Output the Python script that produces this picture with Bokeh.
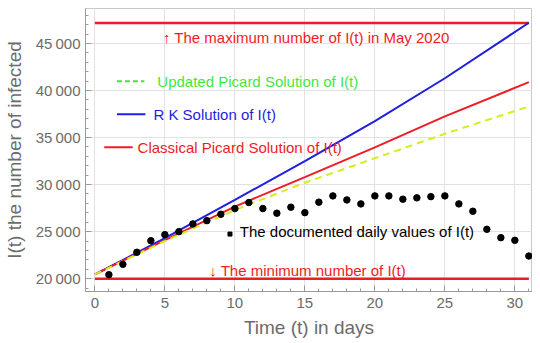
from bokeh.plotting import figure
from bokeh.models import ColumnDataSource, SingleIntervalTicker, Range1d
from bokeh.core.properties import value
from bokeh.embed import file_html
from bokeh.resources import INLINE

# ---- data ----
days = list(range(1, 32))
documented = [20425, 21530, 22810, 24040, 24680, 25000, 25820, 26170, 26850, 27450,
              28090, 27450, 26960, 27600, 27020, 28130, 28800, 28370, 27950, 28800,
              28800, 28450, 28590, 28720, 28800, 27950, 27170, 25250, 24360, 24080, 22410]

t_curve = [0, 5, 10, 15, 20, 25, 31]
rk_solution = [20450, 24300, 28370, 32500, 36750, 41300, 47200]
classical_picard = [20450, 24100, 27660, 30800, 33950, 37250, 40880]
updated_picard = [20450, 24000, 27300, 30200, 32800, 35400, 38300]

t_limits = [0, 31]
max_infected = 47175
min_infected = 20000

y_ticks = [20000, 25000, 30000, 35000, 40000, 45000]
y_tick_labels = ["20\u2009000", "25\u2009000", "30\u2009000", "35\u2009000", "40\u2009000", "45\u2009000"]

# annotation texts (positions in data units)
note_text = ["\u2191 The maximum number of I(t) in May 2020", "\u2193 The minimum number of I(t)"]
note_x = [15.1, 15.2]
note_y = [45640, 20920]

legend_labels = ["Updated Picard Solution of I(t)", "R K Solution of I(t)", "Classical Picard Solution of I(t)"]
legend_text_x = [4.46, 4.18, 3.05]
legend_y = [40970, 37470, 33970]
legend_x0 = [1.58, 1.58, 0.67]
legend_x1 = [3.54, 3.61, 2.70]
legend_colors = ["#3fe83f", "#1f1fe0", "#ee1c24"]

doc_label = "The documented daily values of I(t)"
doc_marker_x, doc_marker_y = 9.65, 24740
doc_text_x, doc_text_y = 10.35, 24990

RED = "#ee1c24"
BLUE = "#1f1fe0"
YELLOWGREEN = "#d4ee1e"
GRAY = "#6b6b6b"
FONT = "Liberation Sans"

p = figure(width=532, height=343, x_range=Range1d(-0.67, 31.26), y_range=Range1d(18640, 48710),
           output_backend="svg", toolbar_location=None,
           min_border_left=77, min_border_right=0, min_border_top=8, min_border_bottom=52)

p.background_fill_color = "white"
p.outline_line_color = "#c8c8c8"

# axes
p.xaxis.ticker = SingleIntervalTicker(interval=5, num_minor_ticks=5)
p.yaxis.ticker = SingleIntervalTicker(interval=5000, num_minor_ticks=5)
p.yaxis.major_label_overrides = {v: s for v, s in zip(y_ticks, y_tick_labels)}
for ax in (p.xaxis, p.yaxis):
    ax.axis_line_color = "#9a9a9a"
    ax.major_tick_line_color = "#9a9a9a"
    ax.minor_tick_line_color = "#9a9a9a"
    ax.major_tick_in = 6
    ax.major_tick_out = 0
    ax.minor_tick_in = 3
    ax.minor_tick_out = 0
    ax.major_label_text_font = FONT
    ax.major_label_text_font_size = "15px"
    ax.major_label_text_color = GRAY
    ax.axis_label_text_font = FONT
    ax.axis_label_text_font_size = "19px"
    ax.axis_label_text_font_style = "normal"
    ax.axis_label_text_color = GRAY
p.xaxis.axis_label = "Time (t) in days"
p.yaxis.axis_label = "I(t) the number of infected"
p.xaxis.major_label_standoff = 6
p.yaxis.major_label_standoff = 5
p.xaxis.axis_label_standoff = 6
p.yaxis.axis_label_standoff = 8

p.xgrid.grid_line_color = "#e2e2e2"
p.ygrid.grid_line_color = "#e2e2e2"

# max / min horizontal lines
p.line(t_limits, [max_infected, max_infected], line_color=RED, line_width=2.5)
p.line(t_limits, [min_infected, min_infected], line_color=RED, line_width=2.5)

# solution curves
p.line(t_curve, rk_solution, line_color=BLUE, line_width=2)
p.line(t_curve, classical_picard, line_color=RED, line_width=2)
p.line(t_curve, updated_picard, line_color=YELLOWGREEN, line_width=2, line_dash="7 5")

# documented values
p.scatter(days, documented, size=6.5, color="black")

# notes
p.text(x=note_x, y=note_y, text=note_text, text_color=RED, text_font=value(FONT),
       text_font_size="15px", text_align="center", text_baseline="middle")

# legend-like labels
p.text(x=legend_text_x, y=legend_y, text=legend_labels, text_color=legend_colors,
       text_font=value(FONT), text_font_size="15px", text_align="left", text_baseline="middle")
p.segment(x0=legend_x0[1:], y0=legend_y[1:], x1=legend_x1[1:], y1=legend_y[1:],
          line_color=legend_colors[1:], line_width=2)
p.segment(x0=legend_x0[:1], y0=legend_y[:1], x1=legend_x1[:1], y1=legend_y[:1],
          line_color=legend_colors[0], line_width=2, line_dash="5 3")

p.scatter([doc_marker_x], [doc_marker_y], marker="square", size=4, color="black")
p.text(x=[doc_text_x], y=[doc_text_y], text=[doc_label], text_color="black",
       text_font=value(FONT), text_font_size="15px", text_align="left", text_baseline="middle")

open("out.html", "w").write(file_html(p, INLINE))
